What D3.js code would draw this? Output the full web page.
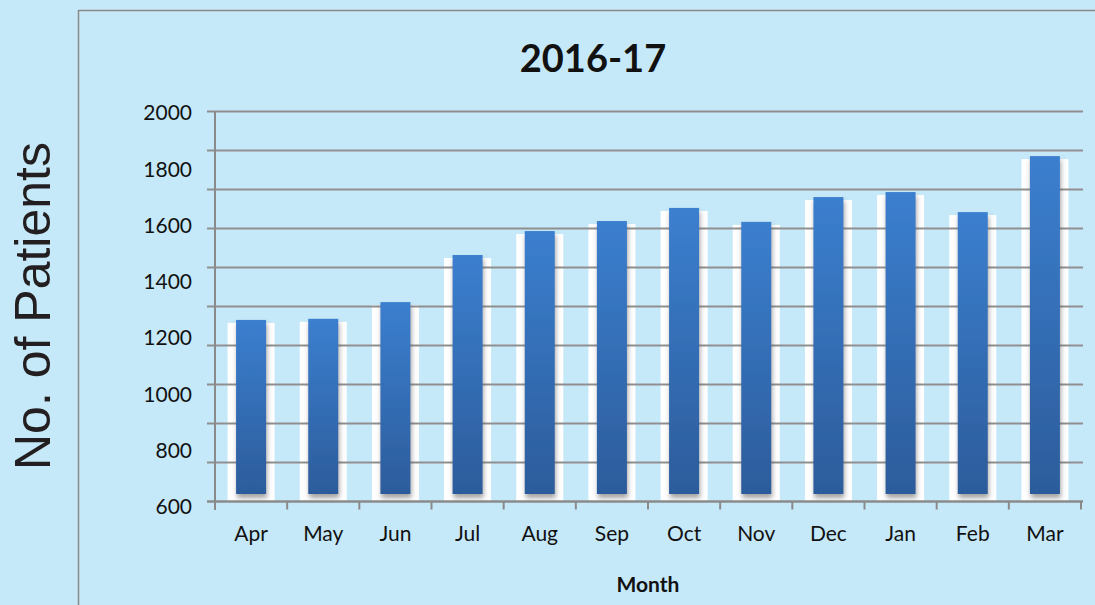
<!DOCTYPE html>
<html>
<head>
<meta charset="utf-8">
<script src="https://cdn.jsdelivr.net/npm/d3@7"></script>
<style>
  body { margin: 0; background: #c6e9f9; }
  svg { display: block; }
</style>
</head>
<body>
<div id="chart"></div>
<script>
// Chart data
var months = ["Apr", "May", "Jun", "Jul", "Aug", "Sep", "Oct", "Nov", "Dec", "Jan", "Feb", "Mar"];
var patients = [1250, 1254, 1314, 1483, 1569, 1605, 1652, 1602, 1691, 1709, 1637, 1838];
var yTickLabels = [600, 800, 1000, 1200, 1400, 1600, 1800, 2000];
var yDomain = [600, 2000];

var width = 1095, height = 605;
var margins = { top: 111, right: 14, bottom: 104, left: 215 };

var svg = d3.select("#chart").append("svg")
  .attr("width", width)
  .attr("height", height)
  .style("background", "#c6e9f9");

var defs = svg.append("defs");

var grad = defs.append("linearGradient")
  .attr("id", "barGrad")
  .attr("x1", 0).attr("y1", 0).attr("x2", 0).attr("y2", 1);
grad.append("stop").attr("offset", "0%").attr("stop-color", "#3b7fcf");
grad.append("stop").attr("offset", "100%").attr("stop-color", "#2c5c9b");

var shadow = defs.append("filter")
  .attr("id", "barShadow")
  .attr("x", "-30%").attr("y", "-5%").attr("width", "160%").attr("height", "115%");
shadow.append("feDropShadow")
  .attr("dx", 1).attr("dy", 4)
  .attr("stdDeviation", 2.5)
  .attr("flood-color", "#555")
  .attr("flood-opacity", 0.55);

// Scales
var x = d3.scaleBand()
  .domain(months)
  .range([margins.left, 1081])
  .padding(0);

var y = d3.scaleLinear()
  .domain(yDomain)
  .range([height - margins.bottom, margins.top]);

// tick labels sit slightly off the gridlines in the original
var yLabel = y.copy().range([507, 113]);

// Outer frame
svg.append("line")
  .attr("x1", 78.5).attr("x2", 78.5)
  .attr("y1", 10).attr("y2", height)
  .attr("stroke", "#8a8a8a").attr("stroke-width", 1.5);
svg.append("line")
  .attr("x1", 78).attr("x2", width)
  .attr("y1", 10.5).attr("y2", 10.5)
  .attr("stroke", "#8a8a8a").attr("stroke-width", 1.5);

// White back bars
svg.selectAll("rect.back")
  .data(patients)
  .enter()
  .append("rect")
    .attr("class", "back")
    .attr("x", function (d, i) { return x(months[i]) + x.bandwidth() / 2 - 23.5; })
    .attr("y", function (d) { return y(d) + 3; })
    .attr("width", 47)
    .attr("height", function (d) { return y(yDomain[0]) - y(d) - 3; })
    .attr("fill", "#ffffff");

// Gridlines (10 equal divisions)
var gridValues = d3.range(0, 11).map(function (i) { return yDomain[0] + i * (yDomain[1] - yDomain[0]) / 10; });
svg.selectAll("line.grid")
  .data(gridValues)
  .enter()
  .append("line")
    .attr("class", "grid")
    .attr("x1", 207).attr("x2", 1083)
    .attr("y1", function (d) { return Math.round(y(d)) + 0.5; })
    .attr("y2", function (d) { return Math.round(y(d)) + 0.5; })
    .attr("stroke", "#8f8f8f")
    .attr("stroke-width", 2);

// Blue bars
svg.selectAll("rect.bar")
  .data(patients)
  .enter()
  .append("rect")
    .attr("class", "bar")
    .attr("x", function (d, i) { return x(months[i]) + x.bandwidth() / 2 - 15; })
    .attr("y", function (d) { return y(d); })
    .attr("width", 30)
    .attr("height", function (d) { return y(yDomain[0]) - 7 - y(d); })
    .attr("fill", "url(#barGrad)")
    .attr("filter", "url(#barShadow)");

// Y axis line
svg.append("line")
  .attr("x1", margins.left).attr("x2", margins.left)
  .attr("y1", y(yDomain[1])).attr("y2", y(yDomain[0]) + 9)
  .attr("stroke", "#8a8a8a").attr("stroke-width", 2);

// X axis
var xAxis = svg.append("g")
  .attr("class", "x-axis")
  .attr("transform", "translate(0," + (y(yDomain[0]) + 0.5) + ")");
xAxis.append("line")
  .attr("x1", 207).attr("x2", 1083)
  .attr("stroke", "#8a8a8a").attr("stroke-width", 2);
xAxis.selectAll("line.tick")
  .data(months.concat(["end"]))
  .enter()
  .append("line")
    .attr("class", "tick")
    .attr("x1", function (d, i) { return margins.left + i * x.step(); })
    .attr("x2", function (d, i) { return margins.left + i * x.step(); })
    .attr("y1", 0).attr("y2", 8)
    .attr("stroke", "#8a8a8a").attr("stroke-width", 2);
xAxis.selectAll("text")
  .data(months)
  .enter()
  .append("text")
    .attr("x", function (d) { return x(d) + x.bandwidth() / 2; })
    .attr("y", 39)
    .attr("text-anchor", "middle")
    .style("font-family", "Lato, 'Open Sans', sans-serif")
    .style("font-size", "21px")
    .attr("fill", "#111")
    .text(function (d) { return d; });

// Y tick labels
svg.append("g")
  .attr("class", "y-axis")
  .attr("transform", "translate(192,0)")
  .call(d3.axisLeft(yLabel).tickValues(yTickLabels).tickFormat(d3.format("d")).tickSize(0).tickPadding(0))
  .call(function (g) { g.select(".domain").remove(); })
  .selectAll("text")
    .style("font-family", "Lato, 'Open Sans', sans-serif")
    .style("font-size", "21px")
    .attr("fill", "#111");

// Title and labels
svg.append("text")
  .attr("class", "title")
  .attr("x", 593).attr("y", 72)
  .attr("text-anchor", "middle")
  .style("font-family", "Lato, 'Open Sans', sans-serif")
  .style("font-weight", "bold")
  .style("font-size", "38px")
  .attr("fill", "#111")
  .text("2016-17");

svg.append("text")
  .attr("class", "x-label")
  .attr("x", 648).attr("y", 592)
  .attr("text-anchor", "middle")
  .style("font-family", "Lato, 'Open Sans', sans-serif")
  .style("font-weight", "bold")
  .style("font-size", "21px")
  .attr("fill", "#111")
  .text("Month");

svg.append("text")
  .attr("class", "y-label")
  .attr("transform", "translate(50,306) rotate(-90)")
  .attr("text-anchor", "middle")
  .style("font-family", "'Liberation Sans', Arial, sans-serif")
  .style("font-size", "50px")
  .attr("fill", "#231f20")
  .text("No. of Patients");
</script>
</body>
</html>
